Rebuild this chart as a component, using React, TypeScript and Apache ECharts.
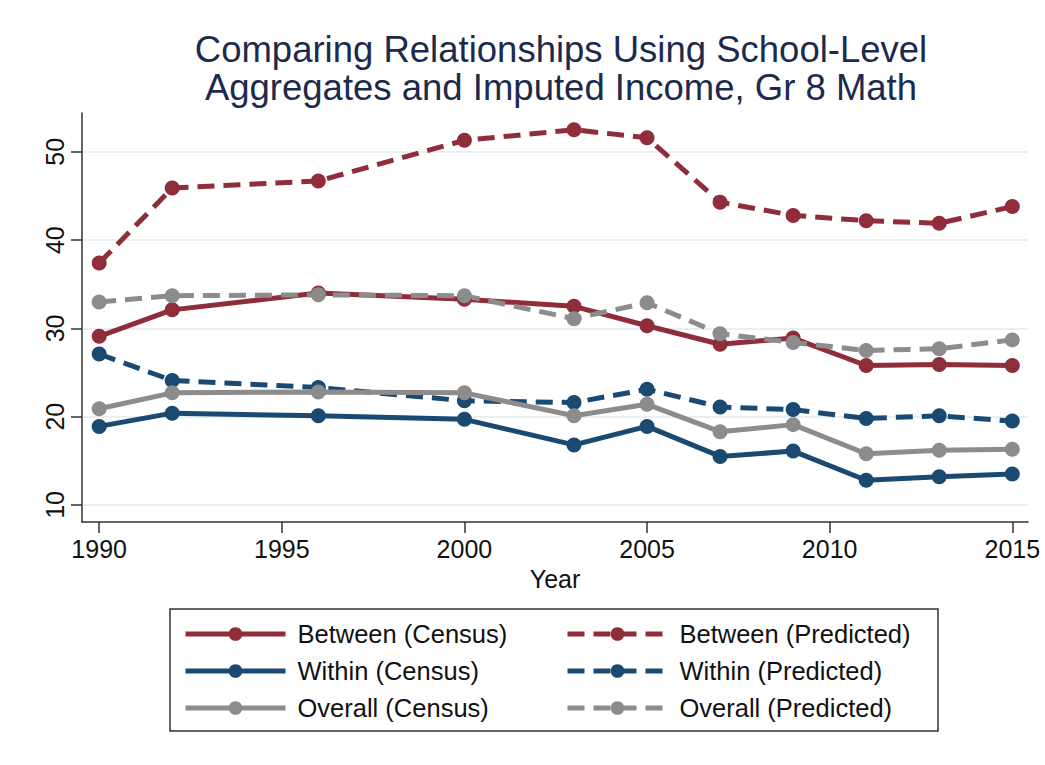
import React, { useEffect, useRef } from "react";
import * as echarts from "echarts";

const years = [1990, 1992, 1996, 2000, 2003, 2005, 2007, 2009, 2011, 2013, 2015];
const betweenCensus = [29.1, 32.1, 34.0, 33.3, 32.5, 30.3, 28.2, 28.9, 25.8, 25.9, 25.8];
const betweenPredicted = [37.4, 45.9, 46.7, 51.3, 52.5, 51.6, 44.3, 42.8, 42.2, 41.9, 43.8];
const withinCensus = [18.9, 20.4, 20.1, 19.7, 16.8, 18.9, 15.5, 16.1, 12.8, 13.2, 13.5];
const withinPredicted = [27.1, 24.1, 23.3, 21.8, 21.6, 23.1, 21.1, 20.8, 19.8, 20.1, 19.5];
const overallCensus = [20.9, 22.7, 22.8, 22.7, 20.1, 21.4, 18.3, 19.1, 15.8, 16.2, 16.3];
const overallPredicted = [33.0, 33.7, 33.8, 33.7, 31.1, 32.9, 29.4, 28.4, 27.5, 27.7, 28.7];

const xTicks = [1990, 1995, 2000, 2005, 2010, 2015];
const yTicks = [10, 20, 30, 40, 50];

const RED = "#8f2d3a";
const NAVY = "#1a4a72";
const GRAY = "#8c8c8c";
const FONT = "'Liberation Sans', Arial, Helvetica, sans-serif";

function pairs(vals: number[]) {
  return years.map((y, i) => [y, vals[i]]);
}

function mkSeries(name: string, vals: number[], color: string, dashed: boolean) {
  return {
    name,
    type: "line",
    data: pairs(vals),
    symbol: "circle",
    symbolSize: 15,
    itemStyle: { color },
    lineStyle: { color, width: 5, type: dashed ? [17, 9] : "solid" },
    emphasis: { disabled: true },
  };
}

export default function App() {
  const ref = useRef<HTMLDivElement>(null);
  useEffect(() => {
    if (!ref.current) return;
    const chart = echarts.init(ref.current, undefined, { renderer: "svg" });
    const legendCommon = {
      orient: "vertical",
      top: 616,
      itemWidth: 100,
      itemHeight: 17,
      itemGap: 11,
      selectedMode: false,
      lineStyle: { width: 5 },
      textStyle: {
        fontFamily: FONT,
        fontSize: 25.5,
        color: "#111",
        lineHeight: 26,
        padding: [0, 0, 0, 7],
      },
    };
    chart.setOption({
      animation: false,
      backgroundColor: "#ffffff",
      title: {
        text: "Comparing Relationships Using School-Level\nAggregates and Imputed Income, Gr 8 Math",
        left: 556,
        top: 25,
        textAlign: "center",
        textStyle: {
          fontFamily: FONT,
          fontSize: 36.5,
          fontWeight: "normal",
          color: "#1c2b4d",
          lineHeight: 38,
        },
      },
      grid: { left: 82, top: 113, right: 17, bottom: 243, containLabel: false },
      xAxis: {
        type: "value",
        min: 1989.53,
        max: 2015.43,
        name: "Year",
        nameLocation: "middle",
        nameGap: 44,
        nameTextStyle: { fontFamily: FONT, fontSize: 25, color: "#111" },
        axisLine: { show: true, lineStyle: { color: "#333", width: 1.5 } },
        axisTick: { show: true, length: 11, customValues: xTicks, lineStyle: { color: "#333", width: 1.5 } },
        axisLabel: {
          customValues: xTicks,
          fontFamily: FONT,
          fontSize: 25,
          color: "#111",
          margin: 14,
          formatter: (v: number) => String(v),
        },
        splitLine: { show: false },
      },
      yAxis: {
        type: "value",
        min: 8.07,
        max: 54.4,
        axisLine: { show: true, lineStyle: { color: "#333", width: 1.5 } },
        axisTick: { show: true, length: 11, customValues: yTicks, lineStyle: { color: "#333", width: 1.5 } },
        axisLabel: {
          customValues: yTicks,
          rotate: 90,
          fontFamily: FONT,
          fontSize: 25,
          color: "#111",
          margin: 15,
        },
        splitLine: { show: true, lineStyle: { color: "#e8f0f2", width: 2 } },
      },
      legend: [
        { ...legendCommon, left: 178, data: ["Between (Census)", "Within (Census)", "Overall (Census)"] },
        { ...legendCommon, left: 560, data: ["Between (Predicted)", "Within (Predicted)", "Overall (Predicted)"] },
      ],
      graphic: [
        {
          type: "rect",
          shape: { x: 170, y: 609, width: 768, height: 122 },
          style: { fill: "none", stroke: "#333", lineWidth: 1.5 },
          silent: true,
        },
      ],
      series: [
        mkSeries("Between (Census)", betweenCensus, RED, false),
        mkSeries("Between (Predicted)", betweenPredicted, RED, true),
        mkSeries("Within (Census)", withinCensus, NAVY, false),
        mkSeries("Within (Predicted)", withinPredicted, NAVY, true),
        mkSeries("Overall (Census)", overallCensus, GRAY, false),
        mkSeries("Overall (Predicted)", overallPredicted, GRAY, true),
      ],
    });
    return () => chart.dispose();
  }, []);
  return (
    <div
      ref={ref}
      style={{ position: "fixed", left: 0, top: 0, width: 1045, height: 765, background: "#fff" }}
    />
  );
}
